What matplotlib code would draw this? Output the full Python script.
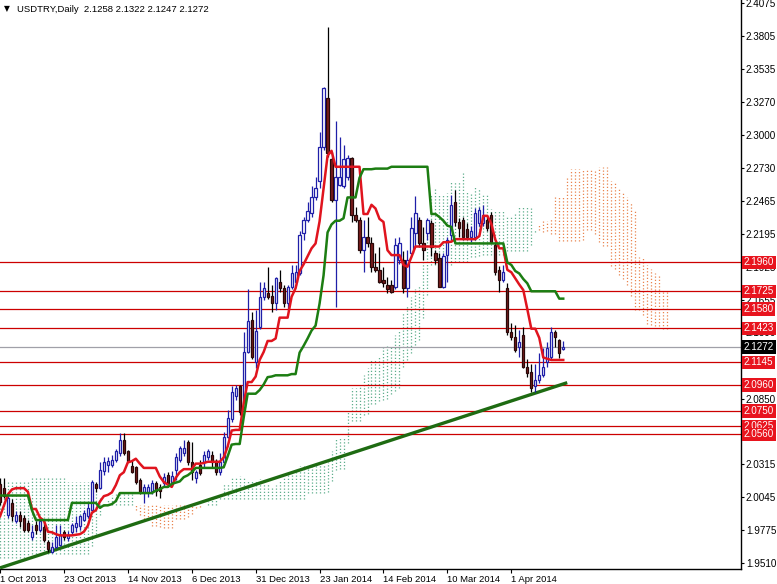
import matplotlib
matplotlib.use("Agg")
import matplotlib.pyplot as plt
import numpy as np

# daily bars, USDTRY, 1 Oct 2013 .. 18 Apr 2014
opens = [2.015, 2.012, 1.990, 2.000, 1.985, 1.990, 1.988, 1.984, 1.972, 1.982,
         1.978, 1.980, 1.968, 1.960, 1.964, 1.966, 1.976, 1.971, 1.976, 1.980,
         1.981, 1.986, 1.989, 1.994, 2.015, 2.012, 2.026, 2.031, 2.031, 2.035,
         2.041, 2.051, 2.042, 2.030, 2.029, 2.019, 2.009, 2.009, 2.010, 2.016,
         2.013, 2.016, 2.023, 2.017, 2.027, 2.035, 2.041, 2.050, 2.033, 2.020,
         2.031, 2.033, 2.037, 2.039, 2.034, 2.025, 2.033, 2.054, 2.068, 2.087,
         2.095, 2.078, 2.123, 2.149, 2.115, 2.143, 2.168, 2.171, 2.169, 2.163,
         2.180, 2.175, 2.163, 2.176, 2.180, 2.187, 2.220, 2.231, 2.236, 2.249,
         2.262, 2.290, 2.330, 2.280, 2.247, 2.259, 2.258, 2.266, 2.281, 2.235,
         2.231, 2.206, 2.217, 2.212, 2.192, 2.190, 2.182, 2.178, 2.178, 2.176,
         2.198, 2.198, 2.175, 2.204, 2.220, 2.231, 2.212, 2.220, 2.228, 2.204,
         2.200, 2.176, 2.202, 2.218, 2.245, 2.229, 2.231, 2.223, 2.217, 2.217,
         2.228, 2.228, 2.231, 2.235, 2.210, 2.190, 2.182, 2.175, 2.139, 2.135,
         2.127, 2.137, 2.111, 2.107, 2.095, 2.100, 2.104, 2.115, 2.119, 2.139,
         2.133, 2.1258]
highs = [2.020, 2.020, 2.006, 2.003, 1.993, 1.993, 1.990, 1.986, 1.982, 1.985,
         1.988, 1.986, 1.970, 1.968, 1.982, 1.982, 1.978, 1.977, 1.984, 1.989,
         1.990, 1.994, 2.000, 2.019, 2.017, 2.033, 2.037, 2.037, 2.039, 2.044,
         2.057, 2.057, 2.043, 2.034, 2.030, 2.020, 2.015, 2.015, 2.019, 2.018,
         2.015, 2.024, 2.025, 2.026, 2.041, 2.046, 2.051, 2.051, 2.050, 2.027,
         2.035, 2.042, 2.044, 2.042, 2.036, 2.041, 2.058, 2.076, 2.095, 2.096,
         2.096, 2.139, 2.174, 2.156, 2.157, 2.180, 2.180, 2.192, 2.178, 2.184,
         2.190, 2.178, 2.178, 2.194, 2.194, 2.222, 2.233, 2.245, 2.258, 2.266,
         2.302, 2.339, 2.388, 2.286, 2.311, 2.298, 2.292, 2.284, 2.282, 2.241,
         2.233, 2.231, 2.233, 2.217, 2.204, 2.209, 2.192, 2.184, 2.182, 2.216,
         2.217, 2.205, 2.206, 2.233, 2.250, 2.233, 2.225, 2.232, 2.231, 2.206,
         2.204, 2.204, 2.217, 2.251, 2.255, 2.232, 2.233, 2.228, 2.226, 2.240,
         2.241, 2.243, 2.234, 2.237, 2.213, 2.193, 2.194, 2.179, 2.147, 2.145,
         2.141, 2.143, 2.117, 2.113, 2.113, 2.122, 2.126, 2.131, 2.143, 2.141,
         2.134, 2.1322]
lows = [1.998, 2.004, 1.988, 1.985, 1.984, 1.980, 1.976, 1.976, 1.970, 1.975,
        1.976, 1.968, 1.960, 1.959, 1.963, 1.965, 1.970, 1.969, 1.974, 1.976,
        1.978, 1.985, 1.988, 1.993, 2.009, 2.011, 2.023, 2.025, 2.029, 2.033,
        2.038, 2.039, 2.033, 2.024, 2.015, 2.007, 2.000, 2.005, 2.007, 2.006,
        2.004, 2.013, 2.013, 2.014, 2.019, 2.033, 2.038, 2.031, 2.019, 2.016,
        2.023, 2.029, 2.035, 2.029, 2.023, 2.023, 2.032, 2.053, 2.066, 2.084,
        2.072, 2.076, 2.122, 2.117, 2.110, 2.142, 2.165, 2.166, 2.156, 2.157,
        2.172, 2.160, 2.157, 2.174, 2.178, 2.186, 2.214, 2.229, 2.233, 2.247,
        2.257, 2.288, 2.282, 2.245, 2.160, 2.258, 2.257, 2.263, 2.229, 2.229,
        2.204, 2.188, 2.209, 2.188, 2.188, 2.179, 2.176, 2.171, 2.171, 2.174,
        2.195, 2.171, 2.168, 2.203, 2.209, 2.209, 2.198, 2.214, 2.201, 2.195,
        2.176, 2.175, 2.180, 2.214, 2.226, 2.217, 2.214, 2.214, 2.213, 2.214,
        2.226, 2.226, 2.222, 2.212, 2.186, 2.172, 2.180, 2.137, 2.133, 2.123,
        2.119, 2.110, 2.103, 2.090, 2.090, 2.098, 2.103, 2.111, 2.117, 2.127,
        2.118, 2.1247]
closes = [2.001, 2.006, 2.004, 1.989, 1.990, 1.985, 1.978, 1.978, 1.976, 1.978,
          1.985, 1.970, 1.962, 1.964, 1.972, 1.974, 1.972, 1.974, 1.982, 1.984,
          1.989, 1.992, 1.996, 2.017, 2.012, 2.027, 2.033, 2.034, 2.035, 2.042,
          2.051, 2.041, 2.034, 2.025, 2.017, 2.009, 2.013, 2.013, 2.016, 2.010,
          2.010, 2.021, 2.016, 2.022, 2.037, 2.045, 2.045, 2.033, 2.025, 2.025,
          2.024, 2.039, 2.042, 2.033, 2.025, 2.033, 2.054, 2.069, 2.090, 2.094,
          2.074, 2.123, 2.148, 2.119, 2.140, 2.168, 2.175, 2.168, 2.163, 2.183,
          2.175, 2.163, 2.176, 2.187, 2.188, 2.218, 2.231, 2.238, 2.249, 2.257,
          2.290, 2.338, 2.285, 2.247, 2.266, 2.266, 2.280, 2.281, 2.235, 2.231,
          2.206, 2.217, 2.212, 2.192, 2.190, 2.180, 2.179, 2.174, 2.172, 2.210,
          2.212, 2.175, 2.198, 2.224, 2.236, 2.212, 2.206, 2.231, 2.209, 2.198,
          2.176, 2.201, 2.214, 2.243, 2.229, 2.224, 2.217, 2.217, 2.222, 2.236,
          2.239, 2.235, 2.224, 2.213, 2.188, 2.182, 2.188, 2.139, 2.135, 2.125,
          2.131, 2.111, 2.106, 2.094, 2.100, 2.104, 2.111, 2.126, 2.139, 2.135,
          2.122, 2.1272]

# indicator values before enough history is on screen
tenkan_head = [1.989, 1.998, 2.007, 2.011, 2.012, 2.012, 2.012, 2.009]
kijun_head = [2.006, 2.006, 2.006, 2.006, 2.006, 2.006, 2.006, 2.006, 1.994, 1.986,
              1.986, 1.986, 1.986, 1.986, 1.986, 1.986, 1.986, 1.986, 2.000, 2.000,
              2.000, 2.000, 2.000, 2.000, 2.000]
span_a_head = [2.018, 2.018, 2.018, 2.018, 2.018, 2.018, 2.018, 2.018, 2.020, 2.020,
               2.020, 2.020, 2.020, 2.020, 2.020, 2.020, 2.020, 2.017, 2.017, 2.017,
               2.017, 2.017, 2.017, 2.017, 2.010, 2.004]
span_b_head = [1.955, 1.955, 1.955, 1.955, 1.955, 1.955, 1.955, 1.955, 1.958, 1.958,
               1.958, 1.958, 1.958, 1.958, 1.958, 1.958, 1.958, 1.958, 1.958, 1.958,
               1.958, 1.958, 1.958, 1.965, 1.975, 1.990, 1.998, 1.998, 1.998, 1.998,
               1.998, 1.998, 1.998, 1.998, 1.998, 1.998, 1.998, 1.998, 1.998, 1.998,
               1.998, 1.998, 1.998, 1.998, 1.998, 1.998, 1.998, 1.998, 1.998, 1.998,
               1.998, 1.998, 1.998, 1.998, 1.998, 2.003, 2.003, 2.003, 2.003, 2.003,
               2.003, 2.003, 2.003, 2.003, 2.003, 2.003, 2.003, 2.003, 2.003, 2.003,
               2.003, 2.003, 2.003, 2.003, 2.003, 2.003, 2.003]

levels = [2.1960, 2.1725, 2.1580, 2.1423, 2.1145, 2.0960, 2.0750, 2.0625, 2.0560]
last_price = 2.1272
trend_x = [0, 142]
trend_y = [1.947, 2.098]

y_ticks = [2.4075, 2.3805, 2.3535, 2.3270, 2.3000, 2.2730, 2.2465, 2.2195, 2.1925,
           2.1655, 2.1390, 2.1120, 2.0850, 2.0580, 2.0315, 2.0045, 1.9775, 1.9510]
date_pos = [0, 16, 32, 48, 64, 80, 96, 112, 128]
date_labels = ["1 Oct 2013", "23 Oct 2013", "14 Nov 2013", "6 Dec 2013", "31 Dec 2013",
               "23 Jan 2014", "14 Feb 2014", "10 Mar 2014", "1 Apr 2014"]
title = "USDTRY,Daily  2.1258 2.1322 2.1247 2.1272"

FONT = "Liberation Sans"
UP = "#1f1fa8"
DOWN_FILL = "#7b1d1d"
DOWN_EDGE = "#2a0808"


def midline(hi, lo, n, head):
    out = list(head)
    for k in range(len(head), len(hi)):
        out.append((max(hi[k - n + 1:k + 1]) + min(lo[k - n + 1:k + 1])) / 2)
    return out


n = len(closes)
tenkan = midline(highs, lows, 9, tenkan_head)
kijun = midline(highs, lows, 26, kijun_head)

# kumo, shifted 26 bars ahead
span_a = list(span_a_head)
for j in range(len(span_a_head), n + 26):
    span_a.append((tenkan[j - 26] + kijun[j - 26]) / 2)
span_b = list(span_b_head)
for j in range(len(span_b_head), n + 26):
    k = j - 26
    span_b.append((max(highs[k - 51:k + 1]) + min(lows[k - 51:k + 1])) / 2)
span_a = np.array(span_a)
span_b = np.array(span_b)

fig = plt.figure(figsize=(7.77, 5.84), dpi=100)
ax = fig.add_axes([0, 1 - 569 / 584, 741 / 777, 569 / 584])

# cloud as dotted hatching
jx = np.arange(len(span_a))
bull = span_a >= span_b
ax.vlines(jx[bull], span_b[bull], span_a[bull], colors="#5fae8c",
          linestyles=(0, (1, 1.6)), linewidth=0.9, zorder=1)
ax.vlines(jx[~bull], span_a[~bull], span_b[~bull], colors="#e9844f",
          linestyles=(0, (1, 1.6)), linewidth=0.9, zorder=1)

for lv in levels:
    ax.axhline(lv, color="#cc0000", lw=0.9, zorder=2)
ax.axhline(last_price, color="#a0a0a8", lw=0.9, zorder=2)

ax.plot(trend_x, trend_y, color="#1e6b12", lw=2.4, zorder=3, solid_capstyle="butt")

# candles
xs = np.arange(n)
o = np.array(opens)
c = np.array(closes)
up = c >= o
ax.vlines(xs[up], np.array(lows)[up], np.array(highs)[up], color=UP, lw=0.9, zorder=4)
ax.vlines(xs[~up], np.array(lows)[~up], np.array(highs)[~up], color="#000000", lw=0.9, zorder=4)
ax.bar(xs[up], (c - o)[up], bottom=o[up], width=0.55, facecolor="white",
       edgecolor=UP, lw=0.9, zorder=5)
ax.bar(xs[~up], (o - c)[~up], bottom=c[~up], width=0.55, facecolor=DOWN_FILL,
       edgecolor=DOWN_EDGE, lw=0.9, zorder=5)

ax.plot(xs, tenkan, color="#e0141e", lw=1.8, zorder=6)
ax.plot(xs, kijun, color="#1c7d12", lw=1.8, zorder=6)

ax.set_xlim(0.25, 185.5)
ax.set_ylim(1.9461, 2.40995)

for s in ["top", "left"]:
    ax.spines[s].set_visible(False)
for s in ["right", "bottom"]:
    ax.spines[s].set_linewidth(1.0)

ax.yaxis.tick_right()
ax.set_yticks(y_ticks)
ax.set_yticklabels([f"{t:.4f}" for t in y_ticks], fontfamily=FONT)
ax.tick_params(axis="y", direction="out", length=2.5, width=0.8, labelsize=7.1, pad=1)
ax.set_xticks(date_pos)
ax.set_xticklabels(date_labels, ha="left", fontfamily=FONT)
ax.tick_params(axis="x", direction="out", length=3, width=0.8, labelsize=6.8, pad=1.5)

ytr = ax.get_yaxis_transform()
for lv in levels:
    ax.text(1.0035, lv, f"{lv:.4f}", transform=ytr, color="white", fontsize=7.1,
            va="center", ha="left", zorder=10, fontfamily=FONT,
            bbox=dict(boxstyle="square,pad=0.17", fc="#e8141e", ec="none"))
ax.text(1.0035, last_price, f"{last_price:.4f}", transform=ytr, color="white",
        fontsize=7.1, va="center", ha="left", zorder=10, fontfamily=FONT,
        bbox=dict(boxstyle="square,pad=0.17", fc="black", ec="none"))

fig.text(4 / 777, 1 - 9 / 584, "\u25bc", fontsize=5.5, va="center", ha="left")
fig.text(17 / 777, 1 - 9 / 584, title, fontsize=6.8, va="center", ha="left",
         fontfamily=FONT)

fig.savefig("out.png", dpi=100)
